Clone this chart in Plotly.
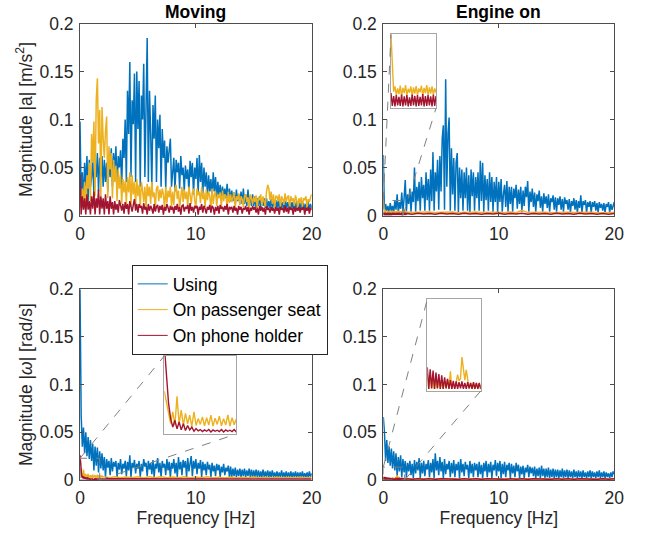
import numpy as np
import plotly.graph_objects as go

# ---------------- data (magnitudes in units of 1e-3) ----------------
# main spectra sampled every 0.1 Hz from 0 to 20 Hz
moving_acc_using = [
    98, 20, 45, 12, 55, 30, 62, 15, 58, 30,
    40, 60, 20, 55, 40, 65, 25, 60, 40, 62,
    30, 58, 35, 55, 25, 60, 40, 70, 30, 65,
    45, 72, 28, 62, 50, 68, 30, 80, 60, 100,
    35, 130, 85, 160, 40, 120, 95, 148, 35, 150,
    90, 140, 30, 125, 100, 158, 40, 130, 185, 35,
    130, 85, 30, 115, 80, 125, 35, 100, 70, 105,
    30, 90, 60, 78, 28, 72, 55, 68, 80, 30,
    50, 60, 25, 58, 45, 55, 28, 62, 42, 50,
    25, 52, 38, 48, 25, 57, 40, 55, 22, 50,
    38, 60, 22, 63, 35, 55, 22, 50, 30, 45,
    20, 42, 25, 38, 18, 45, 25, 40, 18, 35,
    20, 32, 18, 30, 20, 28, 18, 33, 15, 28,
    15, 26, 15, 24, 12, 27, 15, 22, 12, 25,
    12, 28, 12, 22, 10, 27, 12, 20, 10, 22,
    10, 20, 8, 18, 10, 20, 8, 16, 10, 18,
    8, 18, 8, 15, 8, 17, 8, 15, 8, 16,
    8, 15, 7, 16, 8, 14, 7, 15, 8, 14,
    7, 15, 7, 14, 7, 13, 7, 15, 6, 13,
    6, 14, 6, 13, 6, 12, 6, 14, 6, 12, 8]
moving_acc_seat = [
    22, 8, 28, 15, 35, 10, 42, 28, 55, 15,
    85, 55, 98, 20, 120, 143, 75, 110, 20, 113,
    80, 60, 88, 103, 18, 72, 48, 65, 18, 58,
    35, 52, 15, 48, 28, 42, 12, 38, 24, 36,
    12, 40, 24, 45, 10, 42, 22, 35, 10, 38,
    20, 32, 9, 35, 26, 14, 30, 7, 33, 20,
    30, 12, 35, 19, 24, 8, 28, 31, 15, 27,
    18, 28, 22, 7, 30, 13, 26, 19, 30, 9,
    25, 11, 28, 32, 17, 26, 8, 21, 30, 14,
    27, 17, 25, 9, 30, 22, 12, 24, 28, 16,
    8, 28, 21, 25, 13, 30, 17, 24, 9, 27,
    16, 25, 20, 7, 28, 12, 22, 25, 10, 22,
    18, 24, 9, 26, 15, 22, 20, 8, 25, 13,
    22, 14, 19, 24, 8, 20, 16, 23, 11, 20,
    17, 9, 20, 22, 14, 19, 7, 22, 18, 12,
    20, 14, 21, 8, 19, 16, 22, 10, 20, 15,
    9, 25, 32, 28, 16, 25, 12, 22, 8, 20,
    20, 15, 22, 9, 20, 17, 11, 23, 14, 19,
    21, 8, 20, 15, 18, 10, 21, 16, 8, 18,
    13, 19, 9, 18, 16, 20, 8, 17, 14, 19, 22]
moving_acc_holder = [
    43, 1, 20, 6, 18, 1, 22, 6, 15, 1,
    20, 7, 25, 1, 18, 8, 27, 1, 20, 7,
    18, 1, 22, 7, 15, 1, 20, 7, 14, 1,
    15, 6, 12, 3, 16, 9, 5, 12, 2, 14,
    7, 12, 1, 15, 9, 4, 11, 17, 5, 12,
    3, 12, 8, 10, 2, 13, 6, 9, 1, 12,
    5, 10, 7, 2, 12, 4, 9, 11, 3, 10,
    6, 11, 1, 9, 5, 12, 8, 3, 10, 6,
    9, 2, 10, 6, 12, 4, 9, 1, 10, 11,
    4, 9, 7, 11, 2, 13, 5, 9, 3, 10,
    8, 10, 1, 9, 6, 12, 3, 10, 7, 2,
    9, 6, 11, 3, 10, 8, 1, 9, 5, 10,
    2, 11, 7, 9, 4, 10, 6, 12, 1, 9,
    7, 9, 3, 10, 5, 8, 1, 10, 6, 9,
    2, 8, 6, 10, 4, 9, 1, 8, 5, 10,
    6, 9, 3, 8, 1, 10, 5, 9, 4, 8,
    1, 10, 6, 8, 3, 9, 5, 8, 2, 9,
    5, 8, 1, 9, 6, 8, 3, 10, 4, 8,
    2, 9, 6, 8, 1, 9, 4, 8, 5, 9,
    3, 8, 6, 9, 1, 8, 5, 9, 2, 8, 6]

engine_acc_using = [
    63, 3, 12, 5, 10, 2, 13, 5, 10, 3,
    15, 6, 22, 3, 14, 7, 24, 3, 18, 37,
    4, 22, 12, 28, 4, 25, 14, 50, 4, 30,
    15, 35, 5, 40, 18, 32, 5, 45, 16, 38,
    5, 48, 15, 66, 5, 45, 25, 58, 6, 62,
    25, 80, 94, 6, 142, 30, 85, 102, 5, 70,
    22, 60, 5, 55, 65, 3, 50, 18, 48, 5,
    45, 18, 50, 5, 42, 3, 48, 20, 45, 5,
    40, 18, 45, 5, 57, 15, 55, 4, 42, 16,
    38, 5, 45, 14, 40, 4, 35, 14, 40, 3,
    35, 14, 38, 4, 22, 32, 9, 36, 4, 30,
    12, 30, 4, 28, 18, 32, 7, 27, 12, 30,
    4, 26, 10, 30, 19, 36, 4, 25, 14, 28,
    9, 24, 4, 22, 15, 26, 8, 20, 4, 23,
    12, 20, 8, 22, 4, 18, 14, 21, 6, 19,
    4, 18, 11, 20, 6, 17, 4, 19, 12, 16,
    6, 17, 3, 15, 10, 18, 6, 16, 3, 15,
    8, 21, 3, 15, 11, 16, 3, 14, 9, 15,
    3, 14, 9, 15, 5, 13, 3, 14, 8, 12,
    5, 13, 3, 12, 9, 14, 3, 12, 6, 11, 14]

moving_gyr_using = [
    200, 68, 35, 55, 28, 50, 25, 45, 22, 42,
    20, 38, 10, 35, 15, 34, 8, 30, 12, 28,
    10, 24, 3, 22, 13, 20, 5, 23, 9, 19,
    14, 20, 3, 18, 11, 22, 6, 17, 12, 20,
    4, 19, 10, 26, 3, 18, 13, 21, 7, 17,
    12, 20, 3, 17, 9, 22, 14, 18, 4, 20,
    11, 18, 6, 21, 3, 17, 12, 23, 8, 18,
    3, 20, 13, 17, 5, 22, 10, 19, 3, 18,
    12, 22, 7, 18, 3, 24, 11, 19, 5, 21,
    13, 20, 3, 23, 9, 19, 25, 4, 20, 12,
    22, 6, 18, 12, 21, 3, 19, 10, 17, 5,
    19, 11, 16, 3, 18, 9, 15, 4, 17, 10,
    16, 3, 14, 8, 17, 5, 13, 9, 15, 3,
    14, 3, 12, 4, 13, 3, 11, 4, 12, 3,
    11, 4, 12, 3, 10, 4, 12, 3, 11, 3,
    10, 3, 11, 3, 10, 3, 9, 3, 11, 3,
    9, 3, 10, 3, 9, 3, 10, 3, 8, 3,
    9, 3, 8, 3, 10, 3, 8, 3, 9, 3,
    8, 3, 9, 3, 8, 3, 9, 3, 8, 3,
    8, 3, 9, 3, 7, 3, 8, 3, 9, 3, 7]

engine_gyr_using = [
    66, 50, 20, 42, 18, 35, 15, 33, 12, 30,
    10, 28, 4, 24, 9, 26, 3, 22, 8, 20,
    3, 18, 9, 20, 5, 17, 2, 21, 7, 19,
    10, 23, 2, 18, 7, 20, 4, 17, 11, 21,
    3, 18, 8, 22, 2, 28, 10, 20, 5, 24,
    9, 19, 2, 22, 6, 17, 11, 20, 3, 18,
    7, 21, 3, 17, 10, 19, 2, 22, 8, 17,
    4, 19, 11, 16, 2, 20, 7, 17, 3, 18,
    10, 17, 3, 19, 6, 16, 2, 18, 9, 20,
    3, 17, 8, 19, 2, 16, 10, 21, 4, 18,
    9, 20, 2, 17, 6, 19, 3, 16, 10, 18,
    2, 17, 7, 15, 3, 18, 9, 16, 2, 14,
    6, 15, 2, 13, 8, 16, 3, 14, 7, 13,
    4, 14, 2, 12, 4, 13, 2, 15, 4, 12,
    2, 12, 3, 13, 2, 11, 3, 12, 2, 11,
    3, 11, 2, 10, 3, 12, 2, 10, 3, 11,
    2, 10, 3, 9, 2, 11, 3, 9, 2, 10,
    3, 9, 2, 10, 3, 8, 2, 9, 3, 10,
    2, 9, 3, 8, 2, 9, 3, 10, 2, 8,
    3, 9, 2, 8, 3, 7, 2, 8, 3, 9, 6]

# low-level spectra: fine part every 0.05 Hz from 0 Hz, coarse part every 0.5 Hz from 2 Hz
engine_acc_seat_fine = [15.5, 9, 3.5, 4.6, 2.8, 4.2, 3, 4.8, 2.5, 4.3, 3.2, 4.9, 2.7, 4.1,
                        3.3, 4.6, 2.6, 4.4, 3.1, 4.7, 2.8, 4.2, 3.4, 4.8, 2.6, 4.3, 3.2, 4.9,
                        2.7, 4.4, 3.1, 4.6, 2.9, 4.2, 3.3, 4.8, 2.6, 4.4, 3.0, 4.5]
engine_acc_holder_fine = [3.2, 0.5, 2.6, 0.4, 2.8, 0.6, 2.4, 0.5, 2.9, 0.4, 2.5, 0.6, 2.8, 0.4,
                          2.3, 0.5, 2.9, 0.6, 2.6, 0.4, 2.8, 0.5, 2.4, 0.6, 3.0, 0.4, 2.6, 0.5,
                          2.8, 0.6, 2.5, 0.4, 2.9, 0.5, 2.6, 0.6, 2.8, 0.4, 3.0, 0.5]
engine_acc_seat_coarse = [3.6, 3.0, 3.4, 3.1, 3.7, 3.0, 3.3, 3.1, 3.6, 2.9, 3.4, 3.0, 3.6, 3.0,
                          3.3, 3.1, 3.5, 2.9, 3.7, 3.0, 5.5, 3.0, 3.4, 3.1, 3.5, 2.9, 3.3, 3.0,
                          3.4, 3.0, 3.3, 3.1, 3.4, 2.9, 3.3, 3.0, 3.2]
engine_acc_holder_coarse = [2.2, 1.4, 2.3, 1.5, 2.1, 1.4, 2.3, 1.5, 2.2, 1.4, 2.3, 1.5, 2.1, 1.4,
                            2.2, 1.5, 2.3, 1.4, 2.2, 1.5, 2.3, 1.4, 2.1, 1.5, 2.2, 1.4, 2.3, 1.5,
                            2.2, 1.4, 2.3, 1.5, 2.1, 1.4, 2.2, 1.4, 2.2]

moving_gyr_seat_fine = [12.5, 9, 6, 3, 6.5, 2.5, 11, 3, 7, 2.5, 6, 3, 5.5, 2.2, 6.5, 2.5, 4.5,
                        2.8, 5, 2.4, 4.8, 2.6, 5.5, 2.3, 4.6, 2.8, 5.2, 2.4, 4.5, 2.6, 5.6, 2.3,
                        4.8, 2.7, 4.4, 2.5, 4.9, 2.6, 4.6, 2.8]
moving_gyr_holder_fine = [26, 17, 9, 4.5, 2, 4, 1.5, 3.5, 1.2, 3, 1, 2.5, 1.2, 2, 0.8, 1.6, 0.9,
                          1.3, 0.7, 1.2, 0.8, 1.3, 0.6, 1.2, 0.8, 1.1, 0.7, 1.3, 0.6, 1.2, 0.8,
                          1.1, 0.7, 1.3, 0.6, 1.2, 0.8, 1.1, 0.7, 1.2]
moving_gyr_seat_coarse = [3.6, 2.4, 3.4, 2.3, 3.2, 2.4, 3.5, 2.2, 3.3, 2.4, 3.4, 2.3, 3.1, 2.3,
                          3.4, 2.2, 3.2, 2.3, 3.3, 2.2, 3.0, 2.2, 3.2, 2.1, 2.9, 2.1, 3.1, 2.1,
                          2.8, 2.1, 3.0, 2.0, 2.7, 2.0, 2.9, 2.0, 2.8]
moving_gyr_holder_coarse = [1.2, 0.7, 1.1, 0.8, 1.3, 0.7, 1.0, 0.8, 1.2, 0.7, 1.1, 0.8, 1.0, 0.7,
                            1.2, 0.8, 1.1, 0.7, 1.0, 0.8, 1.2, 0.7, 1.1, 0.8, 1.0, 0.7, 1.2, 0.8,
                            1.1, 0.7, 1.0, 0.8, 1.2, 0.7, 1.1, 0.8, 1.0]

engine_gyr_seat_fine = [2.5, 0.3, 2.2, 0.3, 2.0, 0.3, 1.8, 0.3, 1.6, 0.3, 1.4, 0.3, 1.5, 0.3,
                        1.8, 0.3, 2.9, 0.3, 1.2, 0.3, 1.3, 2.4, 1.5, 1.8, 5.0, 3.0, 1.6, 3.1,
                        1.4, 0.3, 1.2, 0.3, 1.1, 0.3, 1.2, 0.3, 1.1, 0.3, 1.2, 0.3]
engine_gyr_holder_fine = [3.5, 0.3, 3.2, 0.4, 3.0, 0.3, 2.7, 0.4, 2.5, 0.3, 2.3, 0.3, 2.0, 0.4,
                          1.8, 0.3, 1.6, 0.3, 1.5, 0.3, 1.4, 0.3, 1.3, 0.4, 1.4, 0.3, 1.2, 0.3,
                          1.3, 0.4, 1.2, 0.3, 1.3, 0.3, 1.2, 0.3, 1.2, 0.3, 1.3, 0.3]
engine_gyr_seat_coarse = [1.6, 0.9, 1.5, 1.0, 1.7, 0.9, 1.5, 1.0, 1.6, 0.9, 1.5, 1.0, 1.6, 0.9,
                          1.5, 1.0, 1.6, 0.9, 1.5, 1.0, 1.5, 0.9, 1.6, 1.0, 1.5, 0.9, 1.5, 1.0,
                          1.5, 0.9, 1.5, 1.0, 1.4, 0.9, 1.5, 1.0, 1.4]
engine_gyr_holder_coarse = [1.3, 0.7, 1.2, 0.8, 1.3, 0.7, 1.2, 0.8, 1.1, 0.7, 1.2, 0.8, 1.3, 0.7,
                            1.2, 0.8, 1.1, 0.7, 1.2, 0.8, 1.3, 0.7, 1.2, 0.8, 1.1, 0.7, 1.2, 0.8,
                            1.3, 0.7, 1.2, 0.8, 1.1, 0.7, 1.2, 0.8, 1.2]

series_names = ["Using", "On passenger seat", "On phone holder"]
panel_titles = ["Moving", "Engine on"]
y_titles = ["Magnitude |a| [m/s<sup>2</sup>]", "Magnitude |<i>ω</i>| [rad/s]"]
x_title = "Frequency [Hz]"
y_ticks = [0, 0.05, 0.1, 0.15, 0.2]
y_ticktext = ["0", "0.05", "0.1", "0.15", "0.2"]
x_ticks = [0, 10, 20]
# zoom windows for the insets: (x max [Hz], y max)
zoom_engine_acc = (1.7, 0.0156)
zoom_moving_gyr = (1.7, 0.0228)
zoom_engine_gyr = (1.85, 0.0135)

# ---------------- helpers ----------------
COLORS = ["#0072BD", "#EDB120", "#A2142F"]
FONT = "Liberation Sans, Arial, Helvetica, sans-serif"
TXT = "#262626"
FS = 17.5
W, H = 645, 539


def main_series(v):
    y = np.array(v, dtype=float) / 1000.0
    return np.arange(len(y)) * 0.1, y


def low_series(fine, coarse):
    yf = np.array(fine, dtype=float) / 1000.0
    yc = np.array(coarse, dtype=float) / 1000.0
    xf = np.arange(len(yf)) * 0.05
    xc = 2.0 + np.arange(len(yc)) * 0.5
    return np.concatenate([xf, xc]), np.concatenate([yf, yc])


# main axes domains (paper fractions)
XD = [[80 / W, 311.7 / W], [383.3 / W, 614.3 / W]]
YD = [[1 - 215.5 / H, 1 - 23.5 / H], [1 - 480 / H, 1 - 289.3 / H]]
# inset domains
INSET_DOM = {
    2: ([391 / W, 436 / W], [1 - 108.3 / H, 1 - 34.3 / H]),
    3: ([164.3 / W, 236.3 / W], [1 - 434 / H, 1 - 356 / H]),
    4: ([427.3 / W, 480.7 / W], [1 - 391 / H, 1 - 299.3 / H]),
}

panels = {
    1: [main_series(moving_acc_using), main_series(moving_acc_seat), main_series(moving_acc_holder)],
    2: [main_series(engine_acc_using),
        low_series(engine_acc_seat_fine, engine_acc_seat_coarse),
        low_series(engine_acc_holder_fine, engine_acc_holder_coarse)],
    3: [main_series(moving_gyr_using),
        low_series(moving_gyr_seat_fine, moving_gyr_seat_coarse),
        low_series(moving_gyr_holder_fine, moving_gyr_holder_coarse)],
    4: [main_series(engine_gyr_using),
        low_series(engine_gyr_seat_fine, engine_gyr_seat_coarse),
        low_series(engine_gyr_holder_fine, engine_gyr_holder_coarse)],
}
zooms = {2: zoom_engine_acc, 3: zoom_moving_gyr, 4: zoom_engine_gyr}

fig = go.Figure()
for p in range(1, 5):
    ax = "" if p == 1 else str(p)
    for k, (x, y) in enumerate(panels[p]):
        fig.add_trace(go.Scatter(
            x=x, y=y, mode="lines", name=series_names[k],
            line=dict(color=COLORS[k], width=1.5),
            xaxis="x" + ax, yaxis="y" + ax,
            showlegend=False, hoverinfo="skip"))

# legend entries drawn with thin lines (as in the reference legend)
for k in range(3):
    fig.add_trace(go.Scatter(
        x=[None], y=[None], mode="lines", name=series_names[k],
        line=dict(color=COLORS[k], width=1), xaxis="x3", yaxis="y3",
        showlegend=True, legendrank=k + 1, hoverinfo="skip"))

# inset traces (seat and holder only)
inset_axis = {2: 5, 3: 6, 4: 7}
for p, ia in inset_axis.items():
    for k in (1, 2):
        x, y = panels[p][k]
        fig.add_trace(go.Scatter(
            x=x, y=y, mode="lines", line=dict(color=COLORS[k], width=1.4),
            xaxis="x%d" % ia, yaxis="y%d" % ia, showlegend=False, hoverinfo="skip"))

axis_common = dict(showline=True, mirror="ticks", linecolor="#4d4d4d", linewidth=1,
                   ticks="inside", ticklen=4, tickcolor="#4d4d4d", showgrid=False,
                   zeroline=False, automargin=False,
                   tickfont=dict(family=FONT, size=FS, color=TXT))

layout = {}
for p in range(1, 5):
    col = (p - 1) % 2
    row = (p - 1) // 2
    sx = "" if p == 1 else str(p)
    xa = dict(axis_common, domain=XD[col], range=[0, 20], tickvals=x_ticks,
              anchor="y" + sx, ticklabelstandoff=2)
    ya = dict(axis_common, domain=YD[row], range=[0, 0.2], tickvals=y_ticks,
              ticktext=y_ticktext, anchor="x" + sx, ticklabelstandoff=2)
    if row == 1:
        xa["title"] = dict(text=x_title, font=dict(family=FONT, size=FS, color=TXT), standoff=4)
    if col == 0:
        ya["title"] = dict(text=y_titles[row], font=dict(family=FONT, size=FS, color=TXT), standoff=2)
    layout["xaxis" + sx] = xa
    layout["yaxis" + sx] = ya

for p, ia in inset_axis.items():
    xd, yd = INSET_DOM[p]
    zx, zy = zooms[p]
    common = dict(showline=True, mirror=True, linecolor="#a6a6a6", linewidth=1,
                  ticks="", showticklabels=False, showgrid=False, zeroline=False,
                  automargin=False)
    layout["xaxis%d" % ia] = dict(common, domain=xd, range=[0, zx], anchor="y%d" % ia)
    layout["yaxis%d" % ia] = dict(common, domain=yd, range=[0, zy], anchor="x%d" % ia)

shapes = []
for p, ia in inset_axis.items():
    col = (p - 1) % 2
    row = (p - 1) // 2
    zx, zy = zooms[p]
    sx = str(p)
    shapes.append(dict(type="rect", xref="x" + sx, yref="y" + sx, x0=0, x1=zx, y0=0, y1=zy,
                       line=dict(color="#808080", width=1, dash="dash")))
    # map zoom window corners to paper coordinates
    px = lambda v: XD[col][0] + v / 20.0 * (XD[col][1] - XD[col][0])
    py = lambda v: YD[row][0] + v / 0.2 * (YD[row][1] - YD[row][0])
    xd, yd = INSET_DOM[p]
    shapes.append(dict(type="line", xref="paper", yref="paper", x0=px(0), y0=py(zy),
                       x1=xd[0], y1=yd[1], line=dict(color="#808080", width=1, dash="dash")))
    shapes.append(dict(type="line", xref="paper", yref="paper", x0=px(zx), y0=py(0),
                       x1=xd[1], y1=yd[0], line=dict(color="#808080", width=1, dash="dash")))

annotations = []
for col in range(2):
    annotations.append(dict(text="<b>%s</b>" % panel_titles[col], xref="paper", yref="paper",
                            x=(XD[col][0] + XD[col][1]) / 2, y=1 - 12 / H, xanchor="center",
                            yanchor="middle", showarrow=False,
                            font=dict(family=FONT, size=FS, color="#000000")))

fig.update_layout(
    width=W, height=H, margin=dict(l=0, r=0, t=0, b=0, autoexpand=False),
    paper_bgcolor="white", plot_bgcolor="white",
    shapes=shapes, annotations=annotations,
    legend=dict(x=131.7 / W, y=1 - 265 / H, xanchor="left", yanchor="top",
                bgcolor="white", bordercolor="#262626", borderwidth=1,
                font=dict(family=FONT, size=FS, color="#000000"),
                tracegroupgap=0, itemwidth=30),
    **layout)

fig.write_html("out.html")
